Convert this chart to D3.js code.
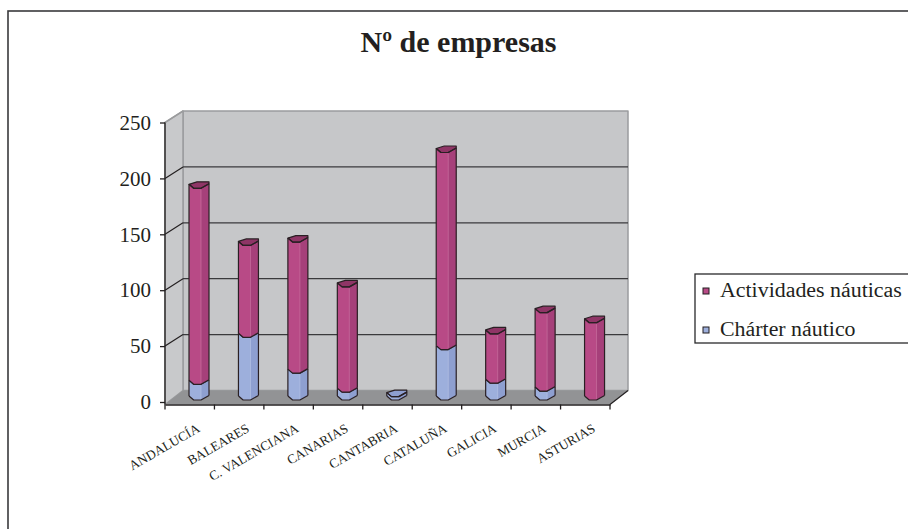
<!DOCTYPE html>
<html>
<head>
<meta charset="utf-8">
<script src="https://cdn.jsdelivr.net/npm/d3@7"></script>
<style>
html, body { margin: 0; padding: 0; background: #fff; }
text { font-family: "Liberation Serif", serif; fill: #231f20; }
</style>
</head>
<body>
<div id="chart"></div>
<script>
var categories = ["ANDALUCÍA", "BALEARES", "C. VALENCIANA", "CANARIAS", "CANTABRIA",
                  "CATALUÑA", "GALICIA", "MURCIA", "ASTURIAS"];
var charter = [14, 56, 24, 7, 3, 45, 15, 8, 0];
var actividades = [175, 82, 117, 94, 0, 176, 44, 70, 69];
var yTicks = [0, 50, 100, 150, 200, 250];
var seriesNames = ["Actividades náuticas", "Chárter náutico"];

var width = 908, height = 529;
var svg = d3.select("#chart").append("svg")
    .attr("width", width).attr("height", height)
    .style("display", "block");

// chart frame
svg.append("rect").attr("x", 8).attr("y", 11)
    .attr("width", 920).attr("height", 540)
    .attr("fill", "none").attr("stroke", "#3a3a3c").attr("stroke-width", 1.6);

svg.append("text").attr("x", 458.5).attr("y", 52)
    .attr("text-anchor", "middle")
    .style("font-size", "30px").style("font-weight", "bold")
    .text("Nº de empresas");

// front plane scales, the back wall is the same thing shifted by depth
var x = d3.scaleBand().domain(categories).range([165, 610]);
var y = d3.scaleLinear().domain([0, 250]).range([402, 122.5]);
var floorY = 404.5;
var depth = {x: 18, y: -11.5};
var backFloorY = y(0) + depth.y;

var x0 = x.range()[0], x1 = x.range()[1];
function poly(g, pts, fill, stroke, sw) {
    return g.append("polygon")
        .attr("points", pts.map(function(p) { return p.join(","); }).join(" "))
        .attr("fill", fill)
        .attr("stroke", stroke || "none")
        .attr("stroke-width", sw || 1)
        .attr("stroke-linejoin", "round");
}

// floor and walls
var walls = svg.append("g");
poly(walls, [[x0 + depth.x, y(250) + depth.y], [x1 + depth.x, y(250) + depth.y],
             [x1 + depth.x, backFloorY], [x0 + depth.x, backFloorY]], "#c6c7c9", "#9b9c9e", 1.5);
poly(walls, [[x0, y(250)], [x0 + depth.x, y(250) + depth.y],
             [x0 + depth.x, backFloorY], [x0, floorY]], "#c8c9cb", "#9b9c9e", 1.5);
poly(walls, [[x0, floorY], [x1, floorY], [x1 + depth.x, backFloorY],
             [x0 + depth.x, backFloorY]], "#929395");

// gridlines, back wall and side wall
yTicks.forEach(function(t) {
    if (t > 0 && t < 250) {
        walls.append("line")
            .attr("x1", x0 + depth.x).attr("x2", x1 + depth.x)
            .attr("y1", y(t) + depth.y).attr("y2", y(t) + depth.y)
            .attr("stroke", "#3a3a3c").attr("stroke-width", 1.2);
    }
    if (t > 0) {
        walls.append("line")
            .attr("x1", x0).attr("x2", x0 + depth.x)
            .attr("y1", y(t)).attr("y2", y(t) + depth.y)
            .attr("stroke", t == 250 ? "#9b9c9e" : "#231f20").attr("stroke-width", 1.2);
    }
});
walls.append("line")
    .attr("x1", x1).attr("x2", x1 + depth.x)
    .attr("y1", floorY).attr("y2", backFloorY)
    .attr("stroke", "#231f20").attr("stroke-width", 1.2);

// bars, the section is a cut prism so the front edge has a dip on the left and a rise on the right
var barWidth = 20, barLeft = 24;
var frontProfile = [[0, -4], [4.7, 0], [12, 0], [20, -4.5]];
var backEdge = [[20, -6.5], [8, -6.5]];
var barY = d3.scaleLinear().domain([0, 250]).range([400, 120]);
var colors = {
    charter: {front: "#9dafdc", side: "#8e9fd0", top: "#8e9fd0", light: "#b4c2e4"},
    actividades: {front: "#b84a86", side: "#a6407a", top: "#8f3566", light: "#c9709f"}
};
var stroke = "#2a2024";

function offset(left, yy, profile) {
    return profile.map(function(p) { return [left + p[0], yy + p[1]]; });
}
function outline(g, pts) {
    g.append("path")
        .attr("d", d3.line().curve(d3.curveLinear)(pts))
        .attr("fill", "none").attr("stroke", stroke).attr("stroke-width", 1.2)
        .attr("stroke-linejoin", "round");
}
function drawSegment(g, left, v0, v1, c, withTop) {
    var yb = barY(v0), yt = barY(v1);
    var low = offset(left, yb, frontProfile), high = offset(left, yt, frontProfile);
    poly(g, high.concat(low.slice().reverse()), c.front);
    // darker right facet
    poly(g, [high[2], high[3], low[3], low[2]], c.side);
    if (yb - yt > 8) {
        g.append("line").attr("x1", left + 12).attr("x2", left + 12)
            .attr("y1", yt + 1).attr("y2", yb - 1)
            .attr("stroke", c.light).attr("stroke-width", 0.7);
    }
    if (withTop) {
        poly(g, high.concat(offset(left, yt, backEdge)), c.top, stroke, 1.2);
    }
    outline(g, high);
    outline(g, low);
    outline(g, [low[0], high[0]]);
    outline(g, [low[3], high[3]]);
}

var bars = svg.append("g");
categories.forEach(function(cat, i) {
    var left = x(cat) + barLeft;
    var g = bars.append("g");
    var total = charter[i] + actividades[i];
    if (charter[i] > 0) drawSegment(g, left, 0, charter[i], colors.charter, actividades[i] == 0);
    if (actividades[i] > 0) drawSegment(g, left, charter[i], total, colors.actividades, true);
});

// axes
var yAxis = d3.axisLeft(y).tickValues(yTicks).tickSize(5).tickPadding(9);
var gy = svg.append("g").attr("transform", "translate(" + x0 + ",0)").call(yAxis);
gy.selectAll("text").style("font-size", "21px").attr("font-family", null);
gy.selectAll("line, path").attr("stroke", "#231f20").attr("stroke-width", 1.3);
gy.select(".domain").attr("d", "M0," + floorY + "V" + y(250));

var xAxis = d3.axisBottom(x).tickSize(0).tickFormat("");
var gx = svg.append("g").attr("transform", "translate(0," + floorY + ")").call(xAxis);
gx.selectAll(".tick").remove();
gx.selectAll("path").attr("stroke", "#231f20").attr("stroke-width", 1.3);
d3.range(categories.length + 1).forEach(function(i) {
    var tx = x0 + i * x.step();
    gx.append("line").attr("x1", tx).attr("x2", tx).attr("y1", 0).attr("y2", 5)
        .attr("stroke", "#231f20").attr("stroke-width", 1.3);
});

svg.append("g").selectAll("text").data(categories).enter().append("text")
    .attr("text-anchor", "end")
    .attr("transform", function(d) {
        return "translate(" + (x(d) + x.bandwidth() / 2 + 11) + ",431) rotate(-30)";
    })
    .style("font-size", "13.3px")
    .text(function(d) { return d; });

// legend
var legend = svg.append("g");
legend.append("rect").attr("x", 695).attr("y", 274)
    .attr("width", 230).attr("height", 69)
    .attr("fill", "#fff").attr("stroke", "#2a2a2c").attr("stroke-width", 1.3);
var legendFill = [colors.actividades.front, colors.charter.front];
seriesNames.forEach(function(name, i) {
    var ly = 291 + i * 39;
    legend.append("rect").attr("x", 703).attr("y", ly - 3)
        .attr("width", 6).attr("height", 6)
        .attr("fill", legendFill[i]).attr("stroke", "#231f20").attr("stroke-width", 1);
    legend.append("text").attr("x", 720).attr("y", ly + 5.5)
        .style("font-size", "21.9px").text(name);
});
</script>
</body>
</html>
